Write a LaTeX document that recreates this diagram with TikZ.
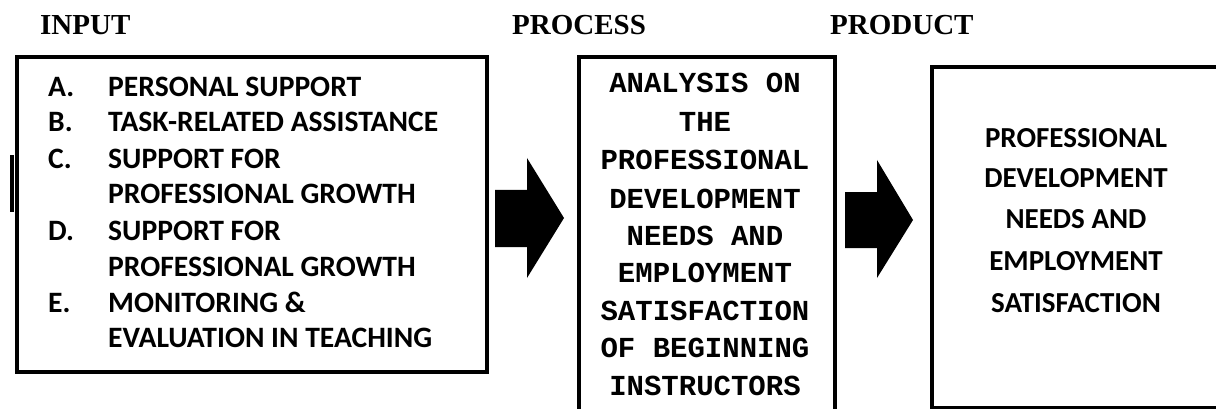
\documentclass[tikz,border=0pt]{standalone}
\usepackage{fontspec}
\newfontfamily\headfont{Liberation Serif}
\newfontfamily\cfont{Carlito}
\newfontfamily\mfont{Liberation Mono}
\begin{document}
\begin{tikzpicture}[x=1pt,y=-1pt,
  heading/.style={anchor=base west,inner sep=0pt,font=\headfont\bfseries\fontsize{29}{29}\selectfont},
  item/.style={anchor=base west,inner sep=0pt,font=\cfont\bfseries\fontsize{29.6}{29.6}\selectfont},
  mono/.style={anchor=base,inner sep=0pt,font=\mfont\bfseries\fontsize{29}{29}\selectfont},
  prod/.style={anchor=base,inner sep=0pt,font=\cfont\bfseries\fontsize{29}{29}\selectfont},
  box/.style={draw,line width=4pt,rectangle,inner sep=0pt,anchor=north west},
  blockarrow/.style={fill=black}]
\useasboundingbox (0,0) rectangle (1216,409);
\clip (0,0) rectangle (1216,409);
% headings
\node[heading] (hin) at (40,35) {INPUT};
\node[heading] (hproc) at (512,35) {PROCESS};
\node[heading] (hprod) at (830,35) {PRODUCT};
% boxes
\node[box,minimum width=470.5pt,minimum height=315pt] (input) at (14.5,55) {};
\node[box,minimum width=256pt,minimum height=380pt] (process) at (577,55) {};
\node[box,minimum width=320pt,minimum height=341pt] (product) at (930,65) {};
\fill (10,155) rectangle (14,212);
% input list
\node[item] (la) at (48,97) {A.};
\node[item] (ta) at (108,97) {PERSONAL SUPPORT};
\node[item] (lb) at (48,132) {B.};
\node[item] (tb) at (108,132) {TASK-RELATED ASSISTANCE};
\node[item] (lc) at (48,168) {C.};
\node[item] (tc1) at (108,168) {SUPPORT FOR};
\node[item] (tc2) at (108,204) {PROFESSIONAL GROWTH};
\node[item] (ld) at (48,240) {D.};
\node[item] (td1) at (108,240) {SUPPORT FOR};
\node[item] (td2) at (108,276) {PROFESSIONAL GROWTH};
\node[item] (le) at (48,312) {E.};
\node[item] (te1) at (108,312) {MONITORING \&};
\node[item] (te2) at (108,347) {EVALUATION IN TEACHING};
% process text
\node[mono] (p1) at (705,93) {ANALYSIS ON};
\node[mono] (p2) at (705,132) {THE};
\node[mono] (p3) at (705,170) {PROFESSIONAL};
\node[mono] (p4) at (705,208) {DEVELOPMENT};
\node[mono] (p5) at (705,245) {NEEDS AND};
\node[mono] (p6) at (705,282) {EMPLOYMENT};
\node[mono] (p7) at (705,320) {SATISFACTION};
\node[mono] (p8) at (705,357) {OF BEGINNING};
\node[mono] (p9) at (705,395) {INSTRUCTORS};
% product text
\node[prod] (r1) at (1076,148) {PROFESSIONAL};
\node[prod] (r2) at (1076,188) {DEVELOPMENT};
\node[prod] (r3) at (1076,228) {NEEDS AND};
\node[prod] (r4) at (1076,270) {EMPLOYMENT};
\node[prod] (r5) at (1076,312) {SATISFACTION};
% block arrows
\fill[blockarrow] (495,190) -- (527,190) -- (527,158) -- (564,218) -- (527,278) -- (527,247) -- (495,247) -- cycle;
\fill[blockarrow] (845,192) -- (877,192) -- (877,160) -- (913,220) -- (877,278) -- (877,248) -- (845,248) -- cycle;
\end{tikzpicture}
\end{document}
